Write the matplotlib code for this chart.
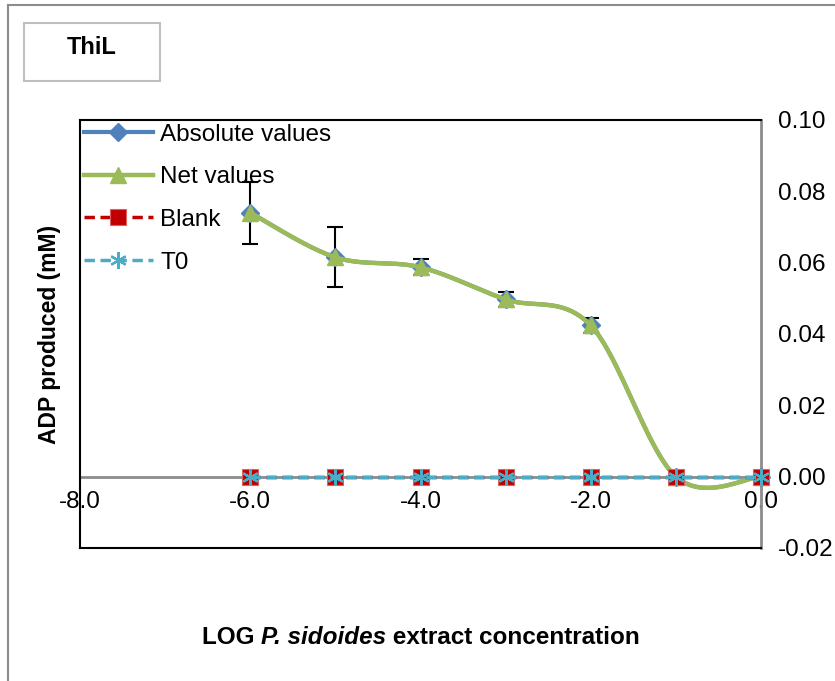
import numpy as np
import matplotlib
matplotlib.use("Agg")
import matplotlib.pyplot as plt
from matplotlib.lines import Line2D
from matplotlib.patches import Rectangle

plt.rcParams['font.family'] = ['Liberation Sans', 'DejaVu Sans']

# ---- data ----
log_conc = [-6, -5, -4, -3, -2, -1, 0]
absolute_values = [0.0740, 0.0615, 0.0587, 0.0497, 0.0424, 0.0, 0.0]
absolute_err = [0.0087, 0.0084, 0.0022, 0.0022, 0.0022, 0.0, 0.0]
net_values = [0.0740, 0.0615, 0.0587, 0.0497, 0.0424, 0.0, 0.0]
blank_values = [0.0, 0.0, 0.0, 0.0, 0.0, 0.0, 0.0]
t0_values = [0.0, 0.0, 0.0, 0.0, 0.0, 0.0, 0.0]
x_ticks = [-8.0, -6.0, -4.0, -2.0, 0.0]
y_ticks = [-0.02, 0.0, 0.02, 0.04, 0.06, 0.08, 0.10]


def excel_smooth(x, y, n=40):
    x = np.asarray(x, float)
    y = np.asarray(y, float)
    P = np.column_stack([x, y])
    out = []
    N = len(P)
    for i in range(N - 1):
        p0 = P[i - 1] if i > 0 else P[i]
        p1 = P[i]
        p2 = P[i + 1]
        p3 = P[i + 2] if i + 2 < N else P[i + 1]
        c1 = p1 + (p2 - p0) / 6.0
        c2 = p2 - (p3 - p1) / 6.0
        t = np.linspace(0, 1, n)[:, None]
        seg = ((1 - t) ** 3) * p1 + 3 * ((1 - t) ** 2) * t * c1 + 3 * (1 - t) * t ** 2 * c2 + t ** 3 * p2
        out.append(seg if i == 0 else seg[1:])
    s = np.vstack(out)
    return s[:, 0], s[:, 1]


W, H = 835, 681
fig = plt.figure(figsize=(W / 100, H / 100), dpi=100)

# plot area
L, R, T, B = 80, 761, 120, 548
ax = fig.add_axes([L / W, 1 - B / H, (R - L) / W, (B - T) / H])

blue = '#4F81BD'
green = '#9BBB59'
red = '#C00000'
cyan = '#4BACC6'
dash = (0, (3.0, 1.6))

# Absolute values
sx, sy = excel_smooth(log_conc, absolute_values)
ax.plot(sx, sy, color=blue, lw=3, zorder=3)
ax.errorbar(log_conc[:5], absolute_values[:5], yerr=absolute_err[:5], fmt='none',
            ecolor='black', elinewidth=1.5, capsize=6, capthick=1.5, zorder=2)
ax.plot(log_conc, absolute_values, ls='none', marker='D', ms=9, color=blue, zorder=3, clip_on=False)
h_abs = Line2D([], [], color=blue, lw=3, marker='D', ms=9)

# Net values
sx, sy = excel_smooth(log_conc, net_values)
ax.plot(sx, sy, color=green, lw=3.2, zorder=4)
ax.plot(log_conc, net_values, ls='none', marker='^', ms=12, color=green, zorder=4, clip_on=False)
h_net = Line2D([], [], color=green, lw=3.2, marker='^', ms=12)

# Blank
ax.plot(log_conc, blank_values, color=red, lw=2.5, ls=dash, zorder=5)
ax.plot(log_conc, blank_values, ls='none', marker='s', ms=11,
        mfc=red, mec='#E06060', mew=0.8, zorder=5, clip_on=False)
h_blank = Line2D([], [], color=red, lw=2.5, ls=dash, marker='s', ms=11,
                 mfc=red, mec='#E06060', mew=0.8)

# T0
ax.plot(log_conc, t0_values, color=cyan, lw=2.5, ls=dash, zorder=6)
ax.plot(log_conc, t0_values, ls='none', marker=(6, 2, 0), ms=12,
        mew=1.6, mec=cyan, zorder=6, clip_on=False)
h_t0 = Line2D([], [], color=cyan, lw=2.5, ls=dash, marker=(6, 2, 0), ms=12,
              mew=1.6, mec=cyan)

ax.set_xlim(-8, 0)
ax.set_ylim(-0.02, 0.10)

# spines: border
for s in ['left', 'top', 'bottom']:
    ax.spines[s].set_color('black')
    ax.spines[s].set_linewidth(1.5)
ax.spines['right'].set_color('#8C8C8C')
ax.spines['right'].set_linewidth(2)

# y axis on right
ax.yaxis.tick_right()
ax.set_yticks(y_ticks)
ax.set_yticklabels([f'{v:.2f}' for v in y_ticks])
ax.tick_params(axis='y', length=0, pad=12, labelsize=17.5)

# x axis at y=0
ax.set_xticks([])
sec = ax.secondary_xaxis((0 - (-0.02)) / 0.12)
sec.set_xticks(x_ticks)
sec.set_xticklabels([f'{v:.1f}' for v in x_ticks])
sec.tick_params(length=0, pad=10, labelsize=17.5)
sec.spines['bottom'].set_color('#8C8C8C')
sec.spines['bottom'].set_linewidth(2)

ax.set_ylabel('ADP produced (mM)', fontsize=16.5, fontweight='bold', labelpad=14)
ax.yaxis.set_label_position('left')

leg = ax.legend([h_abs, h_net, h_blank, h_t0], ['Absolute values', 'Net values', 'Blank', 'T0'],
                loc='upper left', frameon=False, fontsize=17.5, handlelength=2.85,
                handletextpad=0.3, labelspacing=0.85, borderaxespad=0.0, borderpad=0.15)

# outer chart border
fig.add_artist(Line2D([8 / W, 8 / W], [0, 1 - 5 / H], color='#8C8C8C', lw=1.5, transform=fig.transFigure))
fig.add_artist(Line2D([8 / W, 1], [1 - 5 / H, 1 - 5 / H], color='#8C8C8C', lw=1.5, transform=fig.transFigure))

# title box
fig.add_artist(Rectangle((24 / W, 1 - 81 / H), 136 / W, 58 / H, transform=fig.transFigure,
                         fill=False, edgecolor='#BFBFBF', lw=1.5))
fig.text(92 / W, 1 - 48 / H, 'ThiL', fontsize=17, fontweight='bold', ha='center', va='center')

# x label with italic part
parts = [('LOG ', 'normal'), ('P. sidoides', 'italic'), (' extract concentration', 'normal')]
texts = [fig.text(0, 1 - 637 / H, p, fontsize=17.5, fontweight='bold', style=st, va='center')
         for p, st in parts]
fig.canvas.draw()
r = fig.canvas.get_renderer()
widths = [t.get_window_extent(r).width for t in texts]
total = sum(widths)
x0 = 421 - total / 2
for t, w in zip(texts, widths):
    t.set_x(x0 / W)
    x0 += w

fig.savefig('out.png', dpi=100)
